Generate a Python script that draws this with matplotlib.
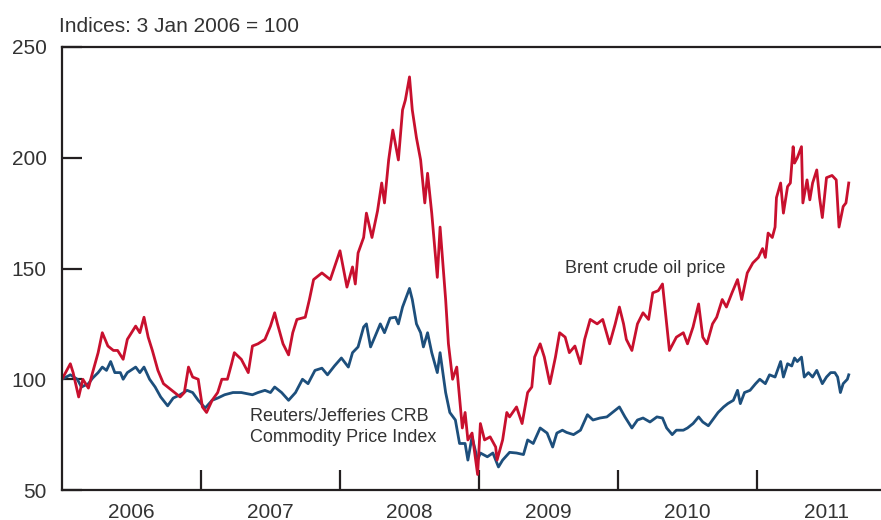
import matplotlib
matplotlib.use("Agg")
import matplotlib.pyplot as plt
import numpy as np

# ---- data (decimal years, index 3 Jan 2006 = 100) ----
brent_t = [2006.00, 2006.06, 2006.08, 2006.12, 2006.15, 2006.19, 2006.22, 2006.26, 2006.29, 2006.33,
           2006.37, 2006.40, 2006.44, 2006.47, 2006.53, 2006.56, 2006.59, 2006.62, 2006.65, 2006.69,
           2006.73, 2006.76, 2006.81, 2006.85, 2006.88, 2006.91, 2006.94, 2006.98, 2007.01, 2007.04,
           2007.08, 2007.12, 2007.15, 2007.19, 2007.22, 2007.24, 2007.29, 2007.34, 2007.37, 2007.41,
           2007.46, 2007.50, 2007.53, 2007.55, 2007.59, 2007.63, 2007.66, 2007.69, 2007.75, 2007.78,
           2007.81, 2007.87, 2007.93, 2008.00, 2008.05, 2008.09, 2008.11, 2008.13, 2008.17, 2008.19,
           2008.23, 2008.27, 2008.30, 2008.32, 2008.35, 2008.38, 2008.42, 2008.45, 2008.47, 2008.50,
           2008.52, 2008.55, 2008.58, 2008.61, 2008.63, 2008.66, 2008.70, 2008.72, 2008.76, 2008.78,
           2008.81, 2008.84, 2008.88, 2008.90, 2008.92, 2008.95, 2008.99, 2009.01, 2009.04, 2009.08,
           2009.12, 2009.13, 2009.17, 2009.20, 2009.22, 2009.27, 2009.31, 2009.35, 2009.38, 2009.40,
           2009.44, 2009.47, 2009.51, 2009.55, 2009.58, 2009.62, 2009.65, 2009.69, 2009.73, 2009.76,
           2009.80, 2009.85, 2009.89, 2009.94, 2009.98, 2010.01, 2010.04, 2010.06, 2010.10, 2010.14,
           2010.18, 2010.22, 2010.25, 2010.29, 2010.32, 2010.35, 2010.37, 2010.42, 2010.47, 2010.50,
           2010.54, 2010.58, 2010.61, 2010.64, 2010.68, 2010.71, 2010.75, 2010.78, 2010.82, 2010.86,
           2010.89, 2010.93, 2010.97, 2011.01, 2011.04, 2011.06, 2011.08, 2011.11, 2011.13, 2011.14,
           2011.17, 2011.19, 2011.22, 2011.24, 2011.26, 2011.27, 2011.29, 2011.32, 2011.33, 2011.36,
           2011.38, 2011.40, 2011.43, 2011.45, 2011.47, 2011.50, 2011.54, 2011.57, 2011.59, 2011.62,
           2011.64, 2011.66]
brent_v = [100, 107, 103, 92, 100, 96, 103, 112, 121, 115,
           113, 113, 109, 118, 124, 121, 128, 119, 113, 104,
           98, 96.5, 94, 92, 94, 105.5, 101, 100, 87.5, 85,
           90.5, 94, 100, 100, 107, 112, 109, 103, 115, 116,
           118, 124, 130, 125, 116, 111, 121, 127, 128, 136,
           145, 148, 145, 158, 141.6, 150.7, 143, 157, 164, 175,
           164, 176, 188.6, 179.6, 199, 212.5, 199, 221.6, 226, 236.5,
           221.6, 209, 199, 179.6, 193, 175, 146, 168.7, 136, 116,
           100, 105.5, 78, 85, 72.6, 75.7, 57, 80, 72.6, 74,
           69.4, 63.5, 72.6, 85, 83, 87.5, 80, 94, 96.5, 110,
           116, 110, 98, 110, 121, 119, 112, 115, 107, 118,
           127, 125, 127, 116, 125, 132.6, 125, 118, 113, 125,
           130, 127, 139, 140, 143, 125, 113, 119, 121, 116,
           123.6, 134, 119, 116, 125, 128, 136, 132.6, 139, 145,
           136, 148, 152.5, 155, 159, 155, 166, 164, 168.7, 182,
           188.6, 175, 187, 188.6, 205, 197.6, 200, 205, 179.6, 190,
           181, 188.6, 194.5, 182, 173, 191, 192, 190, 168.7, 178,
           179.6, 188.6]

crb_t = [2006.00, 2006.06, 2006.11, 2006.14, 2006.19, 2006.22, 2006.26, 2006.29, 2006.32, 2006.35,
         2006.38, 2006.42, 2006.44, 2006.47, 2006.53, 2006.56, 2006.59, 2006.63, 2006.67, 2006.71,
         2006.76, 2006.80, 2006.85, 2006.90, 2006.94, 2006.98, 2007.03, 2007.08, 2007.12, 2007.17,
         2007.23, 2007.29, 2007.37, 2007.41, 2007.46, 2007.50, 2007.53, 2007.58, 2007.63, 2007.68,
         2007.73, 2007.77, 2007.82, 2007.87, 2007.91, 2007.96, 2008.01, 2008.06, 2008.09, 2008.13,
         2008.17, 2008.19, 2008.22, 2008.25, 2008.29, 2008.32, 2008.36, 2008.40, 2008.42, 2008.45,
         2008.47, 2008.50, 2008.52, 2008.55, 2008.58, 2008.60, 2008.63, 2008.66, 2008.70, 2008.72,
         2008.76, 2008.79, 2008.83, 2008.86, 2008.90, 2008.92, 2008.95, 2008.99, 2009.01, 2009.06,
         2009.10, 2009.14, 2009.17, 2009.22, 2009.27, 2009.32, 2009.35, 2009.39, 2009.44, 2009.49,
         2009.53, 2009.56, 2009.60, 2009.63, 2009.68, 2009.73, 2009.78, 2009.82, 2009.87, 2009.92,
         2009.96, 2010.01, 2010.05, 2010.10, 2010.14, 2010.18, 2010.23, 2010.28, 2010.32, 2010.35,
         2010.39, 2010.42, 2010.47, 2010.50, 2010.54, 2010.58, 2010.61, 2010.65, 2010.68, 2010.72,
         2010.76, 2010.79, 2010.83, 2010.86, 2010.88, 2010.91, 2010.95, 2010.99, 2011.02, 2011.06,
         2011.09, 2011.13, 2011.17, 2011.19, 2011.22, 2011.25, 2011.27, 2011.29, 2011.32, 2011.34,
         2011.37, 2011.40, 2011.43, 2011.47, 2011.50, 2011.53, 2011.56, 2011.58, 2011.60, 2011.62,
         2011.65, 2011.66]
crb_v = [100, 102, 100, 96.5, 98, 100.5, 103, 105.5, 104, 108,
         103, 103, 100, 103, 105.5, 103, 105.5, 100, 96.5, 92,
         88, 91.5, 93, 95, 94, 90.5, 87, 90.5, 91.5, 93,
         94, 94, 93, 94, 95, 94, 96.5, 94, 90.5, 94,
         100, 98, 104, 105, 102, 106, 109.6, 105.5, 112, 114.6,
         123.6, 125, 114.6, 119, 125, 121, 127.6, 128, 125, 132.6,
         136, 141, 136, 125, 121, 114.6, 121, 112, 103, 112,
         94, 85, 81.6, 71, 71, 63.5, 74, 63.5, 66.7, 65,
         66.7, 60.4, 63.5, 67, 66.7, 66, 72.6, 71, 78, 75.7,
         69.4, 75.7, 77, 76, 75, 77, 84, 81.6, 82.5, 83,
         85, 87.5, 83, 78, 81.6, 82.5, 80.7, 83, 82.5, 78,
         75, 77, 77, 78, 80, 83, 80.7, 79, 81.6, 85,
         87.5, 89, 90.5, 95, 89, 94, 95, 98, 100, 98,
         102, 101, 108, 101, 107, 106, 109.6, 108, 110, 101,
         103, 101, 104, 98, 101, 103, 103, 101, 94, 98,
         100, 102]

year_labels = ["2006", "2007", "2008", "2009", "2010", "2011"]
y_ticks = [50, 100, 150, 200, 250]

RED = "#c8102e"
BLUE = "#1d4f7c"
TXT = "#333333"

plt.rcParams["font.family"] = ["Liberation Sans", "DejaVu Sans"]

fig = plt.figure(figsize=(8.81, 5.20), dpi=100)
W, H = 881, 520
ax = fig.add_axes([62 / W, 30 / H, (881 - 62) / W, (490 - 47) / H])

ax.plot(crb_t, crb_v, color=BLUE, lw=2.0, solid_joinstyle="round")
ax.plot(brent_t, brent_v, color=RED, lw=2.0, solid_joinstyle="round")

ax.set_xlim(2006.0, 2006.0 + (881 - 62) / 139.0)
ax.set_ylim(50, 250)

ax.spines["right"].set_visible(False)
for s in ["left", "top", "bottom"]:
    ax.spines[s].set_linewidth(1.6)
    ax.spines[s].set_color("#231f20")

# x: major ticks at year boundaries (no labels), labels at mid-year
ax.set_xticks([2007, 2008, 2009, 2010, 2011])
ax.set_xticklabels([])
ax.set_xticks([2006.5 + i for i in range(len(year_labels))], minor=True)
ax.set_xticklabels(year_labels, minor=True)
ax.tick_params(axis="x", which="major", direction="in", length=14.5, width=1.6, color="#231f20")
ax.tick_params(axis="x", which="minor", length=0, pad=9, labelsize=15, labelcolor=TXT)

ax.set_yticks(y_ticks)
ax.set_yticklabels([str(v) for v in y_ticks])
ax.tick_params(axis="y", direction="in", length=14.5, width=1.6, color="#231f20",
               pad=11, labelsize=15, labelcolor=TXT)

fig.text(59 / W, 1 - 32 / H, "Indices: 3 Jan 2006 = 100", fontsize=15, color=TXT,
         ha="left", va="baseline")

ax.text(2009.62, 150.2, "Brent crude oil price", fontsize=13, color=TXT,
        ha="left", va="center")
ax.text(2007.35, 83.4, "Reuters/Jefferies CRB", fontsize=13, color=TXT,
        ha="left", va="center")
ax.text(2007.35, 73.9, "Commodity Price Index", fontsize=13, color=TXT,
        ha="left", va="center")

fig.savefig("out.png", dpi=100)
